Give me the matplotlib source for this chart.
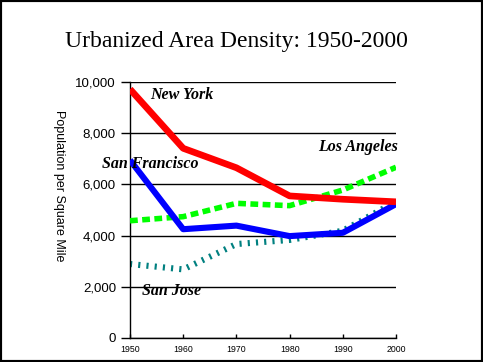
import matplotlib
matplotlib.use("Agg")
import matplotlib.pyplot as plt
from matplotlib.patches import Rectangle

years = [1950, 1960, 1970, 1980, 1990, 2000]
new_york = [9720, 7410, 6650, 5550, 5420, 5320]
san_francisco = [6950, 4250, 4390, 3980, 4110, 5230]
los_angeles = [4580, 4740, 5260, 5170, 5780, 6670]
san_jose = [2890, 2680, 3670, 3830, 4190, 5330]
yticks = [0, 2000, 4000, 6000, 8000, 10000]
ytick_labels = ["0", "2,000", "4,000", "6,000", "8,000", "10,000"]

fig = plt.figure(figsize=(4.83, 3.62), dpi=100)
ax = fig.add_axes([130/483, 1-338/362, 266/483, 256/362])

ax.plot(years, new_york, color="#FF0000", lw=4.8, solid_capstyle="butt", zorder=5)
ax.plot(years, san_francisco, color="#0000FF", lw=4.4, solid_capstyle="butt", zorder=4)
ax.plot(years, los_angeles, color="#00FF00", lw=4.0, dashes=(1.4, 0.8), dash_capstyle="butt", zorder=3)
ax.plot(years, san_jose, color="#008080", lw=4.4, dashes=(0.35, 1.0), dash_capstyle="butt", zorder=2)

ax.set_xlim(1950, 2000)
ax.set_ylim(0, 10000)
ax.set_yticks(yticks)
ax.set_yticklabels(ytick_labels, fontsize=9.5, family="Liberation Sans")
ax.set_xticks(years)
ax.set_xticklabels([str(y) for y in years], fontsize=6.3, family="Liberation Sans")
ax.tick_params(axis="y", direction="out", length=6.5, width=1, pad=3.6)
ax.tick_params(axis="x", direction="in", length=3, width=1, pad=5)
ax.yaxis.grid(True, color="black", lw=1)
ax.set_axisbelow(True)
for s in ["top", "right"]:
    ax.spines[s].set_visible(False)
for s in ["left", "bottom"]:
    ax.spines[s].set_linewidth(1)
    ax.spines[s].set_color("black")

ax.set_ylabel("Population per Square Mile", rotation=-90, fontsize=9,
              family="Liberation Sans", va="bottom")
ax.yaxis.set_label_coords(-0.29, 0.595)

lab = dict(family="Liberation Serif", style="italic", weight="bold", fontsize=11.5, zorder=6)
ax.text(1953.8, 9500, "New York", ha="left", va="center", **lab)
ax.text(1944.7, 6780, "San Francisco", ha="left", va="center", **lab)
ax.text(1985.3, 7480, "Los Angeles", ha="left", va="center", **lab)
ax.text(1952.3, 1830, "San Jose", ha="left", va="center", **lab)

fig.text(236/483, 1-42/362, "Urbanized Area Density: 1950-2000", ha="center", va="center",
         family="Liberation Serif", fontsize=17)

fig.patches.append(Rectangle((0, 0), 1, 1, transform=fig.transFigure, fill=False,
                             edgecolor="black", lw=3, zorder=10))
fig.savefig("out.png", dpi=100)
